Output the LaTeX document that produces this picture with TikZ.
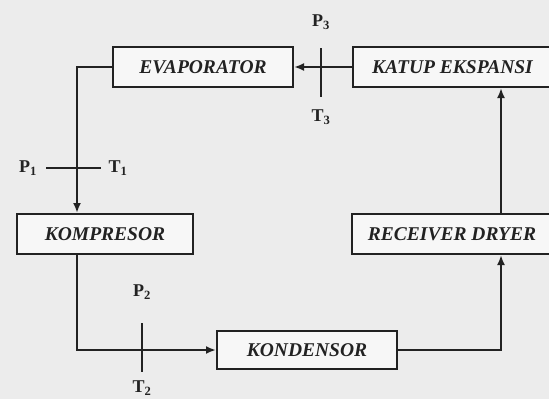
\documentclass[tikz,border=0pt]{standalone}
\usepackage{fontspec}
\setmainfont{Liberation Serif}
\usepackage{tikz}
\usetikzlibrary{positioning,arrows.meta,calc}
\definecolor{cPaper}{HTML}{ECECEC}
\definecolor{cInk}{HTML}{222222}

\begin{document}
\begin{tikzpicture}[x=1pt, y=-1pt,
  every node/.style={text=cInk, inner sep=0pt},
  unit/.style={draw=cInk, line width=2pt, fill=white!60!cPaper,
    font=\fontsize{19.5}{23}\selectfont\bfseries\itshape,
    minimum width=180pt, minimum height=40pt},
  probe/.style={font=\fontsize{18}{21}\selectfont\bfseries},
  tick/.style={draw=cInk, line width=2pt},
  arr/.style={-{Latex[length=10pt,width=8pt]}, line width=2pt, color=cInk}]

  % paper and frame
  \fill[cPaper] (0,0) rectangle (549,399);
  \useasboundingbox (0,0) rectangle (549,399);
  \clip (0,0) rectangle (549,399);

  % components
  \node[unit] (evap) at (203,67) {EVAPORATOR};
  \node[unit, minimum width=199pt] (katup) at (452.5,67) {KATUP EKSPANSI};
  \node[unit, minimum width=176pt] (komp) at (105,234) {KOMPRESOR};
  \node[unit, minimum width=200pt] (recv) at (452,234) {RECEIVER DRYER};
  \node[unit, minimum height=38pt] (kond) at (307,350) {KONDENSOR};

  % pipe runs
  \coordinate (lft) at (77,0);
  \coordinate (rgt) at (501,0);

  \draw[arr] (katup) -- (evap);
  \draw[arr] (evap.west) -| (komp.north -| lft);
  \draw[arr] (komp.south -| lft) |- (kond.west);
  \draw[arr] (kond.east) -| (recv.south -| rgt);
  \draw[arr] (recv.north -| rgt) -- (katup.south -| rgt);

  % measuring points
  \node[probe] (p3) at (321,22) {P\textsubscript{3}};
  \node[probe] (t3) at (321,117) {T\textsubscript{3}};
  \draw[tick] (321,48) -- (321,97);

  \node[probe] (p1) at (28,168) {P\textsubscript{1}};
  \node[probe] (t1) at (118,168) {T\textsubscript{1}};
  \draw[tick] (46,168) -- (101,168);

  \node[probe] (p2) at (142,292) {P\textsubscript{2}};
  \node[probe] (t2) at (142,388) {T\textsubscript{2}};
  \draw[tick] (142,323) -- (142,372);
\end{tikzpicture}
\end{document}
